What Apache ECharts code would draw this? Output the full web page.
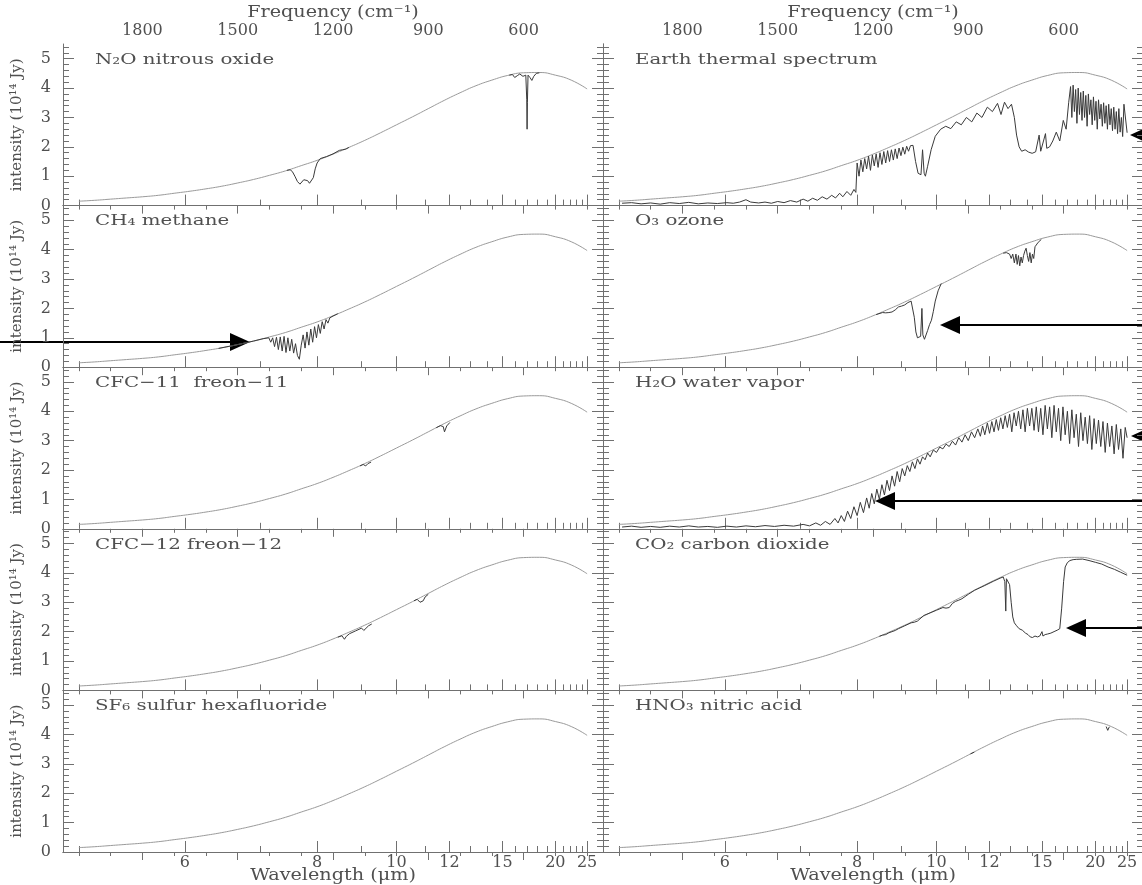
<!DOCTYPE html>
<html>
<head>
<meta charset="utf-8">
<script src="https://cdn.jsdelivr.net/npm/echarts@6/dist/echarts.min.js"></script>
<style>
html, body { margin: 0; background: #fff; }
#main { width: 1142px; height: 885px; }
</style>
</head>
<body>
<div id="main"></div>
<script>
// reference (smooth) curve, wavenumber in cm-1 and intensity in 1e14 Jy
var envNu = [2000,1950,1900,1850,1800,1750,1700,1650,1600,1550,1500,1450,1400,1350,1300,1250,1200,
  1150,1100,1050,1000,950,900,850,800,750,700,650,600,550,500,450,400];
var envVal = [0.15,0.18,0.22,0.26,0.30,0.35,0.42,0.49,0.57,0.66,0.77,0.89,1.03,1.18,1.36,1.54,1.75,
  1.98,2.22,2.48,2.75,3.02,3.30,3.58,3.84,4.08,4.27,4.43,4.52,4.53,4.44,4.27,3.97];

// measured spectra, [cm-1, intensity]; '-' breaks the line
var n2oSpec = [[1345,1.20],[1335,1.22],[1328,1.16],[1320,1.00],[1312,0.82],[1304,0.73],[1298,0.75],[1292,0.88],
  [1286,0.92],[1280,0.85],[1274,0.76],[1268,0.77],[1262,0.95],[1256,1.25],[1250,1.45],[1240,1.60],[1220,1.67],
  [1200,1.76],[1180,1.88],[1170,1.90],[1165,1.86],[1160,1.92],[1150,1.98],[1149,'-'],
  [645,4.44],[635,4.46],[628,4.36],[620,4.42],[612,4.48],[602,4.40],[593,4.44],[590,3.6],[589,2.6],[588,3.5],
  [586,4.44],[580,4.36],[574,4.26],[568,4.40],[560,4.50],[550,4.52]];
var ch4Spec = [[1560,0.64],[1500,0.77],[1450,0.89],[1420,0.97],[1402,1.0],[1396,0.85],[1390,1.0],[1384,0.7],
  [1378,1.02],[1372,0.6],[1366,1.03],[1360,0.55],[1354,1.05],[1348,0.5],[1342,1.0],[1336,0.55],[1330,0.95],
  [1324,0.48],[1318,0.8],[1312,0.4],[1306,0.27],[1300,0.75],[1294,1.1],[1288,0.65],[1282,1.2],[1276,0.75],
  [1270,1.3],[1264,0.85],[1258,1.38],[1252,1.0],[1246,1.45],[1240,1.15],[1234,1.55],[1228,1.3],[1222,1.62],
  [1216,1.5],[1210,1.68],[1200,1.74],[1185,1.82]];
var cfc11Spec = [[1115,2.14],[1105,2.19],[1097,2.14],[1090,2.22],[1080,2.27],[1079,'-'],
  [875,3.44],[862,3.51],[853,3.48],[849,3.30],[846,3.34],[842,3.50],[832,3.62]];
var cfc12Spec = [[1185,1.81],[1172,1.86],[1164,1.74],[1158,1.84],[1148,1.93],[1130,2.02],[1110,2.12],
  [1103,2.04],[1098,2.10],[1088,2.20],[1078,2.26],[1077,'-'],
  [945,3.05],[935,3.10],[926,3.00],[921,2.95],[916,3.05],[910,3.18],[900,3.27]];
var sf6Spec = [];
var earthSpec = [[1990,0.08],[1960,0.10],[1930,0.06],[1900,0.09],[1870,0.05],[1840,0.10],[1810,0.07],
  [1780,0.11],[1750,0.06],[1720,0.09],[1690,0.07],[1660,0.10],[1640,0.08],[1620,0.12],[1600,0.20],[1585,0.12],
  [1560,0.09],[1540,0.12],[1520,0.08],[1500,0.14],[1480,0.10],[1460,0.17],[1440,0.12],[1420,0.22],[1405,0.15],
  [1390,0.25],[1375,0.18],[1360,0.30],[1345,0.22],[1330,0.35],[1318,0.26],[1305,0.42],[1295,0.30],[1282,0.48],
  [1270,0.35],[1260,0.55],[1254,0.45],[1250,1.45],[1244,1.00],[1238,1.55],[1232,1.15],[1226,1.60],[1220,1.25],
  [1214,1.68],[1208,1.20],[1202,1.72],[1196,1.35],[1190,1.76],[1184,1.30],[1178,1.80],[1172,1.40],[1166,1.84],
  [1160,1.45],[1154,1.87],[1148,1.50],[1142,1.90],[1136,1.55],[1130,1.93],[1124,1.60],[1118,1.96],[1112,1.70],
  [1106,1.99],[1100,1.75],[1094,2.02],[1088,1.85],[1082,2.04],[1074,2.05],[1066,1.50],[1058,1.10],[1049,1.05],
  [1044,1.90],[1039,1.10],[1035,1.00],[1028,1.34],[1017,1.90],[1004,2.36],[987,2.60],[971,2.70],[955,2.62],
  [938,2.85],[922,2.75],[906,3.00],[889,2.85],[873,3.15],[857,3.00],[840,3.35],[824,3.20],[808,3.48],[797,3.10],
  [786,3.52],[775,3.30],[764,3.45],[755,3.00],[748,2.40],[740,2.00],[732,1.85],[721,1.90],[710,1.82],[699,1.78],
  [688,1.83],[677,2.40],[672,1.85],[657,2.45],[653,1.95],[644,2.00],[634,2.20],[623,2.50],[612,2.20],[601,2.90],
  [592,2.60],[584,3.50],[578,4.05],[574,3.00],[570,4.10],[566,3.20],[562,3.95],[558,2.80],[554,4.00],[550,3.10],
  [546,3.85],[542,2.90],[538,3.90],[534,3.00],[530,3.75],[526,2.70],[522,3.80],[518,3.10],[514,3.60],[510,2.75],
  [506,3.70],[502,2.90],[498,3.55],[494,2.60],[490,3.60],[486,2.95],[482,3.45],[478,2.70],[474,3.50],[470,2.80],
  [466,3.40],[462,2.60],[458,3.45],[454,2.75],[450,3.30],[446,2.55],[442,3.35],[438,2.60],[434,3.20],[430,2.45],
  [426,3.30],[422,2.50],[418,3.00],[414,2.35],[410,3.45],[406,3.40],[400,2.48]];
var o3Spec = [[1190,1.79],[1170,1.86],[1160,1.85],[1150,1.86],[1140,1.88],[1130,1.95],[1120,2.05],[1110,2.08],
  [1100,2.12],[1090,2.20],[1080,2.25],[1075,2.25],[1070,1.7],[1065,1.2],[1060,1.0],[1055,0.95],[1050,1.05],
  [1046,2.0],[1043,1.1],[1038,0.95],[1034,1.0],[1028,1.25],[1022,1.45],[1016,1.6],[1010,1.9],[1004,2.25],
  [995,2.6],[985,2.85],[984,'-'],
  [790,3.88],[780,3.90],[770,3.85],[765,3.70],[760,3.85],[755,3.55],[750,3.85],[746,3.50],[742,3.80],
  [738,3.45],[734,3.75],[730,3.55],[726,3.80],[722,3.95],[718,4.05],[714,3.80],[710,3.60],[706,3.90],
  [702,3.55],[698,3.85],[694,3.70],[690,4.10],[680,4.25],[670,4.35]];
var h2oSpec = [[1990,0.06],[1960,0.09],[1930,0.05],[1900,0.08],[1870,0.05],[1840,0.09],[1810,0.06],[1780,0.10],
  [1750,0.06],[1720,0.08],[1690,0.05],[1660,0.09],[1630,0.06],[1600,0.10],[1570,0.07],[1540,0.11],[1510,0.08],
  [1480,0.12],[1450,0.09],[1420,0.15],[1400,0.10],[1380,0.20],[1365,0.12],[1350,0.25],[1335,0.15],[1320,0.35],
  [1310,0.20],[1300,0.45],[1290,0.25],[1280,0.60],[1270,0.35],[1260,0.75],[1250,0.45],[1240,0.90],[1230,0.55],
  [1220,1.05],[1212,0.70],[1204,1.20],[1196,0.85],[1188,1.35],[1180,1.00],[1172,1.50],[1164,1.15],[1156,1.65],
  [1148,1.30],[1140,1.80],[1132,1.45],[1124,1.95],[1116,1.60],[1108,2.05],[1100,1.80],[1092,2.15],[1084,1.95],
  [1076,2.28],[1068,2.05],[1060,2.38],[1052,2.20],[1044,2.45],[1036,2.35],[1028,2.58],[1020,2.45],[1010,2.68],
  [1000,2.60],[990,2.78],[980,2.72],[970,2.88],[960,2.80],[950,2.98],[940,2.85],[930,3.10],[920,2.95],[910,3.20],
  [900,3.00],[890,3.30],[880,3.10],[870,3.40],[862,3.15],[855,3.50],[848,3.20],[840,3.60],[833,3.25],[826,3.65],
  [819,3.30],[812,3.72],[805,3.35],[798,3.78],[791,3.40],[784,3.85],[777,3.45],[770,3.90],[763,3.30],[756,3.95],
  [749,3.50],[742,4.00],[735,3.40],[728,4.05],[721,3.30],[714,4.10],[707,3.50],[700,4.10],[693,3.35],[686,4.15],
  [679,3.30],[672,4.10],[665,3.20],[658,4.20],[651,3.40],[644,4.15],[637,3.10],[630,4.20],[623,3.30],[616,4.10],
  [609,3.00],[602,4.15],[595,3.20],[588,4.00],[581,2.90],[574,4.05],[567,3.10],[560,3.90],[553,2.80],[546,3.95],
  [539,3.00],[532,3.80],[525,2.90],[518,3.85],[511,2.70],[504,3.75],[497,2.90],[490,3.70],[483,2.80],[476,3.65],
  [469,2.60],[462,3.60],[455,2.80],[448,3.50],[441,2.55],[434,3.55],[427,2.70],[420,3.40],[413,2.40],[406,3.45],
  [400,3.10]];
var co2Spec = [[1180,1.84],[1170,1.88],[1165,1.82],[1160,1.90],[1150,1.96],[1140,2.00],[1135,1.94],[1130,2.04],
  [1120,2.10],[1100,2.20],[1080,2.30],[1070,2.32],[1065,2.27],[1060,2.36],[1040,2.55],[1000,2.73],[980,2.82],
  [970,2.80],[965,2.85],[960,2.82],[950,2.96],[940,3.03],[930,3.07],[920,3.12],[900,3.27],[880,3.41],[850,3.56],
  [820,3.72],[800,3.82],[790,3.86],[785,3.70],[782,2.70],[780,3.80],[775,3.85],[770,3.60],[765,3.00],[760,2.50],
  [755,2.30],[748,2.20],[740,2.10],[730,2.05],[720,1.95],[712,1.90],[705,1.82],[698,1.80],[690,1.85],[682,1.82],
  [675,1.85],[668,2.00],[665,1.85],[658,1.90],[650,1.92],[640,1.95],[630,2.00],[620,2.05],[612,2.10],[606,2.80],
  [600,3.70],[595,4.20],[588,4.35],[580,4.42],[570,4.45],[560,4.46],[540,4.47],[520,4.42],[500,4.36],[480,4.30],
  [460,4.20],[440,4.12],[420,4.02],[400,3.92]];
var hno3Spec = [[893,3.34],[887,3.30],[881,3.40],[880,'-'],[466,4.27],[461,4.14],[456,4.26]];

var panelNames = ['N\u2082O nitrous oxide', 'CH\u2084 methane', 'CFC\u221211  freon\u221211', 'CFC\u221212 freon\u221212',
  'SF\u2086 sulfur hexafluoride', 'Earth thermal spectrum', 'O\u2083 ozone', 'H\u2082O water vapor',
  'CO\u2082 carbon dioxide', 'HNO\u2083 nitric acid'];
var panelSpec = [n2oSpec, ch4Spec, cfc11Spec, cfc12Spec, sf6Spec, earthSpec, o3Spec, h2oSpec, co2Spec, hno3Spec];

// tick marks
var wlMajor = [6, 8, 10, 12, 15, 20, 25];
var wlMinor = [5, 7, 9, 11, 13, 14, 16, 17, 18, 19, 21, 22, 23, 24];
var nuMajor = [1800, 1500, 1200, 900, 600];
var nuMinor = [2000, 1900, 1700, 1600, 1400, 1300, 1100, 1000, 800, 700, 500, 400];
var yMajor = [0, 1, 2, 3, 4, 5];
var yMinor = [0.2, 0.4, 0.6, 0.8, 1.2, 1.4, 1.6, 1.8, 2.2, 2.4, 2.6, 2.8, 3.2, 3.4, 3.6, 3.8,
  4.2, 4.4, 4.6, 4.8, 5.2, 5.4];

(function () {
  var axisColor = '#707070', textColor = '#505050', font = 'DejaVu Serif';
  var colLeft = [63, 603], colW = 540, rowTop = 44, rowH = 161.6;

  function toNu(l) { return 10000 / l; }
  function lc() { return { color: axisColor, width: 1 }; }
  function tk(len, vals) { return { inside: true, length: len, customValues: vals, lineStyle: lc() }; }
  function lb(show, vals, extra) {
    return Object.assign({ show: show, customValues: vals, color: textColor, fontFamily: font, fontSize: 16 }, extra);
  }
  // wide plotter-style lettering: real text, stretched horizontally
  function txt(text, x, y, size, sx, align) {
    return { type: 'text', x: x, y: y, scaleX: sx, silent: true,
      style: { text: text, fontFamily: font, fontSize: size, fill: textColor, align: align, verticalAlign: 'middle' } };
  }
  var envData = envNu.map(function (n, i) { return [n, envVal[i]]; });

  var grids = [], xAxes = [], yAxes = [], series = [], graphics = [];
  for (var p = 0; p < 10; p++) {
    var col = p < 5 ? 0 : 1, row = p % 5;
    var gy = rowTop + row * rowH;
    grids.push({ left: colLeft[col], top: gy, width: colW, height: rowH, outerBoundsMode: 'none' });
    graphics.push(txt(panelNames[p], colLeft[col] + 32, gy + 16, 15, 1.32, 'left'));

    var xb = function (extra) {
      return Object.assign({ gridIndex: p, type: 'value', min: 350, max: 2050, inverse: true,
        splitLine: { show: false } }, extra);
    };
    xAxes.push(xb({
      position: 'bottom', axisLine: { show: true, lineStyle: lc() },
      axisTick: tk(11, wlMajor.map(toNu)),
      axisLabel: lb(row === 4, wlMajor.map(toNu), { margin: 3,
        formatter: function (v) { return String(Math.round(10000 / v)); } })
    }));
    xAxes.push(xb({ position: 'bottom', axisLine: { show: false }, axisTick: tk(6, wlMinor.map(toNu)),
      axisLabel: { show: false } }));
    xAxes.push(xb({
      position: 'top', axisLine: { show: true, lineStyle: lc() },
      axisTick: tk(8, nuMajor),
      axisLabel: lb(row === 0, nuMajor, { margin: 5, formatter: function (v) { return String(v); } })
    }));
    xAxes.push(xb({ position: 'top', axisLine: { show: false }, axisTick: tk(4, nuMinor),
      axisLabel: { show: false } }));

    ['left', 'right'].forEach(function (side) {
      var lab = side === 'left' && col === 0;
      yAxes.push({ gridIndex: p, type: 'value', min: 0, max: 5.5, splitLine: { show: false },
        position: side, axisLine: { show: true, lineStyle: lc() },
        axisTick: tk(11, yMajor),
        axisLabel: lb(lab, yMajor, { margin: 12, formatter: function (v) { return String(v); } }),
        name: lab ? 'intensity (10\u00b9\u2074 Jy)' : '', nameLocation: 'middle', nameGap: 38,
        nameRotate: 90, nameTextStyle: { fontFamily: font, fontSize: 15, color: textColor }
      });
      yAxes.push({ gridIndex: p, type: 'value', min: 0, max: 5.5, splitLine: { show: false },
        position: side, axisLine: { show: false }, axisTick: tk(6, yMinor), axisLabel: { show: false } });
    });

    series.push({ type: 'line', xAxisIndex: 4 * p, yAxisIndex: 4 * p, data: envData, smooth: true,
      showSymbol: false, silent: true, lineStyle: { color: '#9a9a9a', width: 1 } });
    series.push({ type: 'line', xAxisIndex: 4 * p, yAxisIndex: 4 * p, data: panelSpec[p],
      showSymbol: false, silent: true, connectNulls: false, lineStyle: { color: '#3a3a3a', width: 1 } });
  }

  // axis titles for each column
  [0, 1].forEach(function (c) {
    var cx = colLeft[c] + colW / 2;
    graphics.push(txt('Frequency (cm\u207b\u00b9)', cx, 13, 16, 1.2, 'center'));
    graphics.push(txt('Wavelength (\u03bcm)', cx, 876, 16, 1.2, 'center'));
  });

  // black annotation arrows
  function arrow(x0, tipX, y) {
    var dir = tipX > x0 ? 1 : -1, base = tipX - dir * 20;
    return [
      { type: 'line', silent: true, shape: { x1: x0, y1: y, x2: base, y2: y }, style: { stroke: '#000', lineWidth: 2 } },
      { type: 'polygon', silent: true, shape: { points: [[tipX, y], [base, y - 9], [base, y + 9]] }, style: { fill: '#000' } }
    ];
  }
  graphics = graphics.concat(arrow(1160, 1130, 135), arrow(0, 250, 342), arrow(1142, 940, 325),
    arrow(1160, 1131, 436), arrow(1142, 875, 501), arrow(1142, 1066, 628));

  var chart = echarts.init(document.getElementById('main'));
  chart.setOption({
    animation: false,
    backgroundColor: '#fff',
    grid: grids,
    xAxis: xAxes,
    yAxis: yAxes,
    series: series,
    graphic: graphics
  });
})();
</script>
</body>
</html>
